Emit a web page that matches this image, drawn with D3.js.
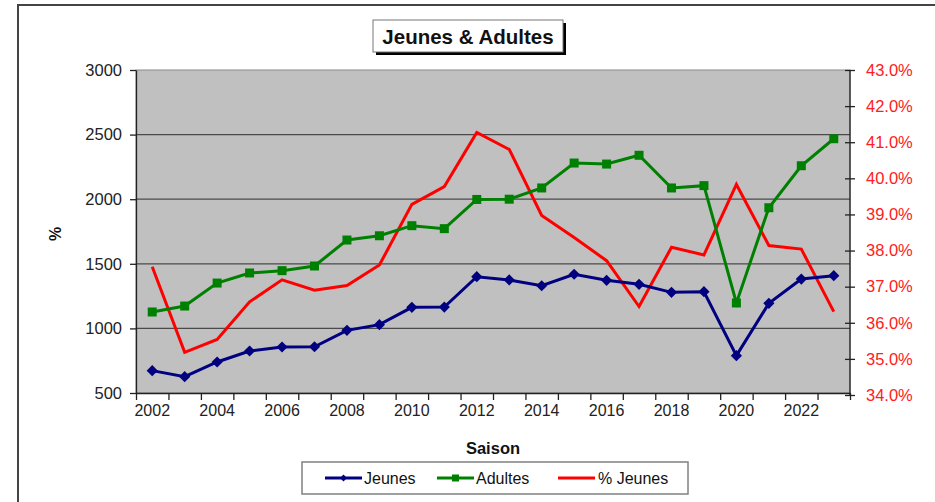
<!DOCTYPE html>
<html>
<head>
<meta charset="utf-8">
<script src="https://cdn.jsdelivr.net/npm/d3@7"></script>
<style>
  body { margin: 0; background: #fff; }
  svg { font-family: "Liberation Sans", Arial, sans-serif; }
</style>
</head>
<body>
<svg id="chart" width="935" height="502"></svg>
<script>
// saisons and values
var years = d3.range(2002, 2024);
var jeunes = [673, 626, 740, 825, 856, 858, 985, 1029, 1163, 1165, 1400, 1375, 1330, 1419, 1372, 1341, 1279, 1284, 789, 1194, 1382, 1408];
var adultes = [1127, 1173, 1351, 1429, 1447, 1483, 1684, 1717, 1795, 1772, 1998, 2000, 2087, 2280, 2272, 2340, 2087, 2105, 1197, 1934, 2259, 2468];
var pctJeunes = [37.55, 35.18, 35.54, 36.58, 37.19, 36.9, 37.03, 37.6, 39.28, 39.77, 41.27, 40.8, 38.97, 38.36, 37.72, 36.45, 38.09, 37.88, 39.83, 38.14, 38.04, 36.31];
var leftTicks = [500, 1000, 1500, 2000, 2500, 3000];
var rightTicks = d3.range(34, 44);

var svg = d3.select('#chart');
// plot area edges (window.top is reserved, hence the names)
var pLeft = 136, pRight = 850, pTop = 70, pBottom = 393;

// outer frame (runs off the right / bottom edge)
svg.append('rect')
  .attr('x', 18).attr('y', 5)
  .attr('width', 940).attr('height', 520)
  .attr('fill', 'none').attr('stroke', '#444').attr('stroke-width', 2);

var x = d3.scaleBand().domain(years).range([pLeft, pRight]);
var xi = d3.scaleLinear().domain([0, years.length]).range([pLeft, pRight]);
var y = d3.scaleLinear().domain([500, 3000]).range([pBottom, pTop]);
var y2 = d3.scaleLinear().domain([34, 43]).range([pBottom + 2, pTop]);

// plot background
svg.append('rect')
  .attr('x', pLeft).attr('y', pTop)
  .attr('width', pRight - pLeft).attr('height', pBottom - pTop)
  .attr('fill', '#c0c0c0').attr('stroke', '#8a8a8a');

// gridlines
svg.append('g').selectAll('line')
  .data(leftTicks.slice(1, -1))
  .enter().append('line')
    .attr('x1', pLeft).attr('x2', pRight)
    .attr('y1', function(d) { return y(d); })
    .attr('y2', function(d) { return y(d); })
    .attr('stroke', '#4a4a4a').attr('stroke-width', 1.3);

// left axis
var gl = svg.append('g')
  .attr('transform', 'translate(' + pLeft + ',0)')
  .call(d3.axisLeft(y).tickValues(leftTicks).tickFormat(d3.format('d'))
    .tickSize(6).tickPadding(8).tickSizeOuter(0));
gl.selectAll('text').attr('font-size', '16.5px').attr('fill', '#222');
gl.selectAll('line, path').attr('stroke', '#222').attr('stroke-width', 1.3);

// right axis, ticks crossing the axis line
var gr = svg.append('g')
  .attr('transform', 'translate(' + (pRight - 5) + ',0)')
  .call(d3.axisRight(y2).tickValues(rightTicks).tickSize(10).tickPadding(11)
    .tickFormat(function(d) { return d.toFixed(1) + '%'; }));
gr.select('.domain').remove();
gr.selectAll('text').attr('font-size', '16.5px').attr('fill', '#ff2020');
gr.selectAll('line').attr('stroke', '#222').attr('stroke-width', 1.3);
svg.append('line')
  .attr('x1', pRight).attr('x2', pRight).attr('y1', pTop).attr('y2', pBottom + 2)
  .attr('stroke', '#222').attr('stroke-width', 1.3);

// bottom axis: ticks between categories, labels every other year
var gb = svg.append('g')
  .attr('transform', 'translate(0,' + pBottom + ')')
  .call(d3.axisBottom(xi).tickValues(d3.range(0, years.length + 1))
    .tickSize(7).tickSizeOuter(0).tickFormat(''));
gb.selectAll('line, path').attr('stroke', '#222').attr('stroke-width', 1.3);
var gbl = svg.append('g')
  .attr('transform', 'translate(0,' + pBottom + ')')
  .call(d3.axisBottom(x).tickValues(years.filter(function(d) { return d % 2 == 0; }))
    .tickSize(0).tickPadding(12));
gbl.select('.domain').remove();
gbl.selectAll('text').attr('font-size', '16px').attr('fill', '#222');

function cx(i) { return x(years[i]) + x.bandwidth() / 2; }

// series
var lineL = d3.line().x(function(d, i) { return cx(i); }).y(function(d) { return y(d); });
var lineR = d3.line().x(function(d, i) { return cx(i); }).y(function(d) { return y2(d); });

svg.append('path').datum(pctJeunes).attr('d', lineR)
  .attr('fill', 'none').attr('stroke', '#ff0000').attr('stroke-width', 3);

svg.append('path').datum(adultes).attr('d', lineL)
  .attr('fill', 'none').attr('stroke', '#008000').attr('stroke-width', 3);
svg.append('g').selectAll('rect')
  .data(adultes).enter().append('rect')
    .attr('x', function(d, i) { return cx(i) - 4.5; })
    .attr('y', function(d) { return y(d) - 4.5; })
    .attr('width', 9).attr('height', 9)
    .attr('fill', '#008000');

svg.append('path').datum(jeunes).attr('d', lineL)
  .attr('fill', 'none').attr('stroke', '#000080').attr('stroke-width', 3);
var diamond = d3.symbol().type(d3.symbolDiamond2).size(80);
svg.append('g').selectAll('path')
  .data(jeunes).enter().append('path')
    .attr('d', diamond)
    .attr('transform', function(d, i) { return 'translate(' + cx(i) + ',' + y(d) + ')'; })
    .attr('fill', '#000080');

// axis titles
svg.append('text')
  .attr('x', 493).attr('y', 454)
  .attr('text-anchor', 'middle').attr('font-size', '16.5px').attr('font-weight', 'bold')
  .attr('fill', '#111').text('Saison');
svg.append('text')
  .attr('transform', 'translate(61,234) rotate(-90)')
  .attr('text-anchor', 'middle').attr('font-size', '16px').attr('font-weight', 'bold')
  .attr('fill', '#111').text('%');

// title box with shadow
svg.append('rect')
  .attr('x', 376).attr('y', 23).attr('width', 190).attr('height', 32)
  .attr('fill', '#000');
svg.append('rect')
  .attr('x', 373).attr('y', 20).attr('width', 190).attr('height', 32)
  .attr('fill', '#fff').attr('stroke', '#777').attr('stroke-width', 1);
svg.append('text')
  .attr('x', 468).attr('y', 43.5)
  .attr('text-anchor', 'middle').attr('font-size', '20.5px').attr('font-weight', 'bold')
  .attr('fill', '#111').text('Jeunes & Adultes');

// legend
svg.append('rect')
  .attr('x', 302).attr('y', 462).attr('width', 386).attr('height', 32)
  .attr('fill', '#fff').attr('stroke', '#808080').attr('stroke-width', 1.5);
var legendItems = [
  { name: 'Jeunes', color: '#000080', x: 325, mark: 'diamond' },
  { name: 'Adultes', color: '#008000', x: 437, mark: 'square' },
  { name: '% Jeunes', color: '#ff0000', x: 558, mark: 'none' }
];
var lg = svg.append('g').selectAll('g')
  .data(legendItems).enter().append('g')
    .attr('transform', function(d) { return 'translate(' + d.x + ',478)'; });
lg.append('line')
  .attr('x1', 0).attr('x2', 37).attr('y1', 0).attr('y2', 0)
  .attr('stroke', function(d) { return d.color; }).attr('stroke-width', 3);
lg.filter(function(d) { return d.mark == 'diamond'; }).append('path')
  .attr('d', d3.symbol().type(d3.symbolDiamond2).size(30))
  .attr('transform', 'translate(18.5,0)')
  .attr('fill', function(d) { return d.color; });
lg.filter(function(d) { return d.mark == 'square'; }).append('rect')
  .attr('x', 15).attr('y', -3.5).attr('width', 7).attr('height', 7)
  .attr('fill', function(d) { return d.color; });
lg.append('text')
  .attr('x', function(d) { return d.mark == 'none' ? 40 : 39; }).attr('y', 5.5)
  .attr('font-size', '16px').attr('fill', '#111')
  .text(function(d) { return d.name; });
</script>
</body>
</html>
